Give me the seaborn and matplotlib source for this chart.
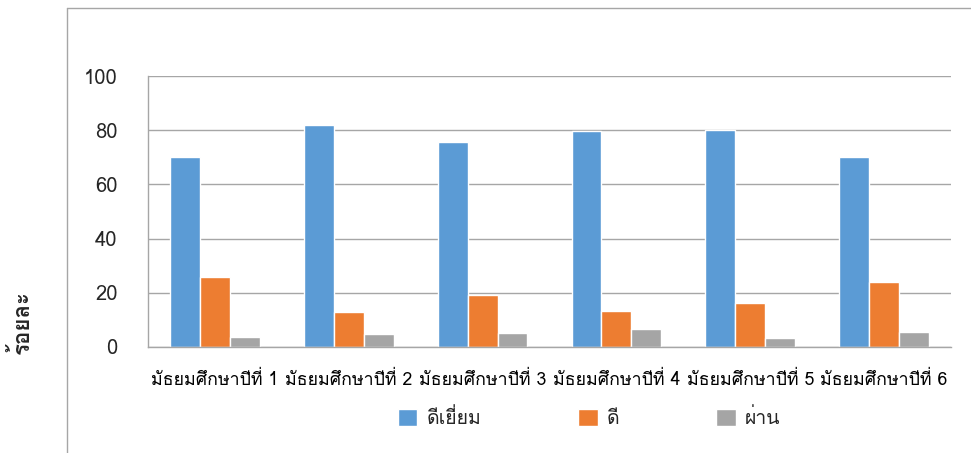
import matplotlib
matplotlib.use("Agg")
import numpy as np
import pandas as pd
import matplotlib.pyplot as plt
from matplotlib.lines import Line2D
import seaborn as sns

grades = ['มัธยมศึกษาปีที่ 1', 'มัธยมศึกษาปีที่ 2', 'มัธยมศึกษาปีที่ 3',
          'มัธยมศึกษาปีที่ 4', 'มัธยมศึกษาปีที่ 5', 'มัธยมศึกษาปีที่ 6']
levels = ['ดีเยี่ยม', 'ดี', 'ผ่าน']
excellent = [70.1, 82.1, 75.5, 79.8, 80.1, 70.2]
good = [25.7, 12.8, 19.3, 13.2, 16.3, 24.0]
passed = [3.8, 4.8, 5.2, 6.7, 3.5, 5.4]
colors = ['#5B9BD5', '#ED7D31', '#A5A5A5']

df = pd.DataFrame({
    'grade': grades * 3,
    'level': [levels[0]] * 6 + [levels[1]] * 6 + [levels[2]] * 6,
    'value': excellent + good + passed,
})

sns.set_style('white')
# Loma keeps the Thai tone marks readable without text shaping
plt.rcParams['font.family'] = ['Loma', 'DejaVu Sans']

fig = plt.figure(figsize=(9.71, 4.53), dpi=100)
ax = fig.add_axes([148 / 971, 1 - 347 / 453, (951 - 148) / 971, (347 - 76) / 453])

sns.barplot(data=df, x='grade', y='value', hue='level', order=grades, hue_order=levels,
            palette=colors, width=0.67, saturation=1, ax=ax, legend=True)

ax.set_ylim(0, 100)
ax.set_xlim(-0.5, 5.5)
ax.set_yticks([0, 20, 40, 60, 80, 100])
ax.set_axisbelow(True)
ax.yaxis.grid(True, color='#A6A6A6', linewidth=1)
ax.xaxis.grid(False)
for s in ['top', 'right']:
    ax.spines[s].set_visible(False)
for s in ['left', 'bottom']:
    ax.spines[s].set_color('#A6A6A6')
    ax.spines[s].set_linewidth(1)

ax.set_xticks(np.arange(-0.5, 6, 1), minor=True)
ax.tick_params(axis='x', which='major', length=0, pad=17, labelsize=12.8, colors='#000000')
ax.tick_params(axis='x', which='minor', length=5, color='#A6A6A6', width=1)
ax.tick_params(axis='y', length=8, color='#A6A6A6', width=1, pad=14, labelsize=14.5)
ax.set_xlabel('')
ax.set_ylabel('')

fig.text(21 / 971, 1 - 322 / 453, 'ร้อยละ', rotation=90, ha='center', va='center',
         fontsize=16, fontweight='bold')

leg = ax.legend(loc='center', bbox_to_anchor=(589 / 971, 1 - 418 / 453),
                bbox_transform=fig.transFigure, ncol=3, frameon=False, fontsize=14,
                handlelength=1.0, handleheight=1.0, handletextpad=0.45, columnspacing=5.0)

# outer chart border (left and top)
fig.add_artist(Line2D([67 / 971, 67 / 971], [0, 1 - 8 / 453], color='#A6A6A6', lw=1))
fig.add_artist(Line2D([67 / 971, 1], [1 - 8 / 453, 1 - 8 / 453], color='#A6A6A6', lw=1))

fig.savefig('out.png')
